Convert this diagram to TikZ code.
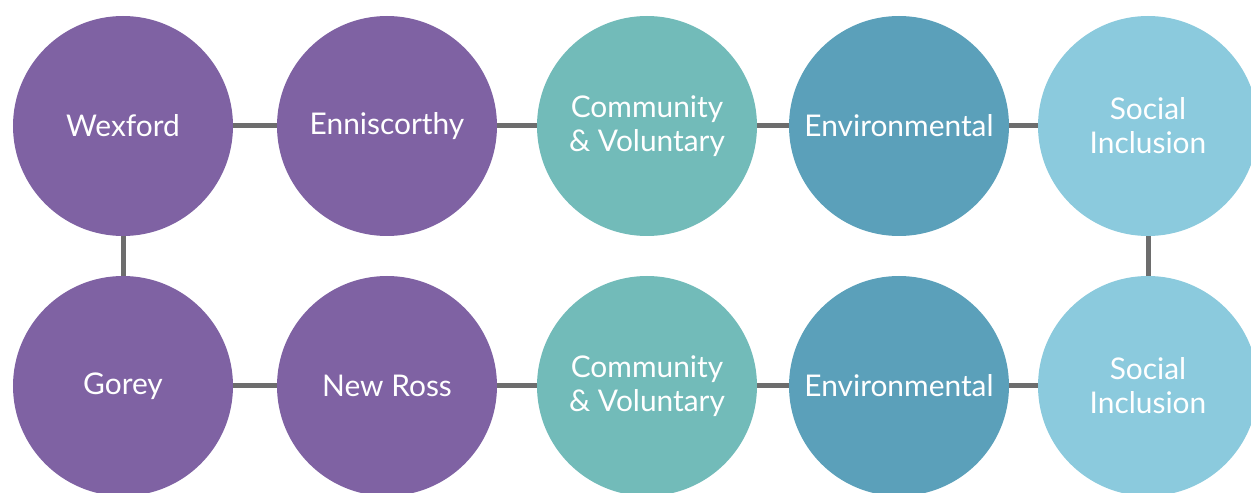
\documentclass[tikz,border=0pt]{standalone}
\usepackage{fontspec}
\setmainfont{Lato}
\definecolor{grape}{HTML}{7F62A3}
\definecolor{seafoam}{HTML}{72BBB9}
\definecolor{steel}{HTML}{5BA0BA}
\definecolor{sky}{HTML}{8BCADD}
\definecolor{linkgrey}{HTML}{6D6D6D}
\tikzset{
	hub/.style={circle, minimum size=220bp, inner sep=0pt, text=white, align=center,
		font=\fontsize{30}{34}\selectfont},
	link/.style={draw=linkgrey, line width=5bp}
}

\begin{document}
\begin{tikzpicture}[x=1bp,y=-1bp]
	\useasboundingbox (0,0) rectangle (1251,493);
	\clip (0,0) rectangle (1251,493);
	% top row
	\node[hub, fill=grape] (wex) at (123,126){Wexford};
	\node[hub, fill=grape] (enn) at (387,126){Enniscorthy};
	\node[hub, fill=seafoam] (comA) at (647,126){Community\\\& Voluntary};
	\node[hub, fill=steel] (envA) at (899,126){Environmental};
	\node[hub, fill=sky] (socA) at (1148,126){Social\\Inclusion};
	% bottom row
	\node[hub, fill=grape] (gor) at (123,386){Gorey};
	\node[hub, fill=grape] (ross) at (387,386){New Ross};
	\node[hub, fill=seafoam] (comB) at (647,386){Community\\\& Voluntary};
	\node[hub, fill=steel] (envB) at (899,386){Environmental};
	\node[hub, fill=sky] (socB) at (1148,386){Social\\Inclusion};
	% links
	\draw[link] (wex) -- (enn);
	\draw[link] (enn) -- (comA);
	\draw[link] (comA) -- (envA);
	\draw[link] (envA) -- (socA);
	\draw[link] (wex) -- (gor);
	\draw[link] (socA) -- (socB);
	\draw[link] (gor) -- (ross);
	\draw[link] (ross) -- (comB);
	\draw[link] (comB) -- (envB);
	\draw[link] (envB) -- (socB);
\end{tikzpicture}
\end{document}
